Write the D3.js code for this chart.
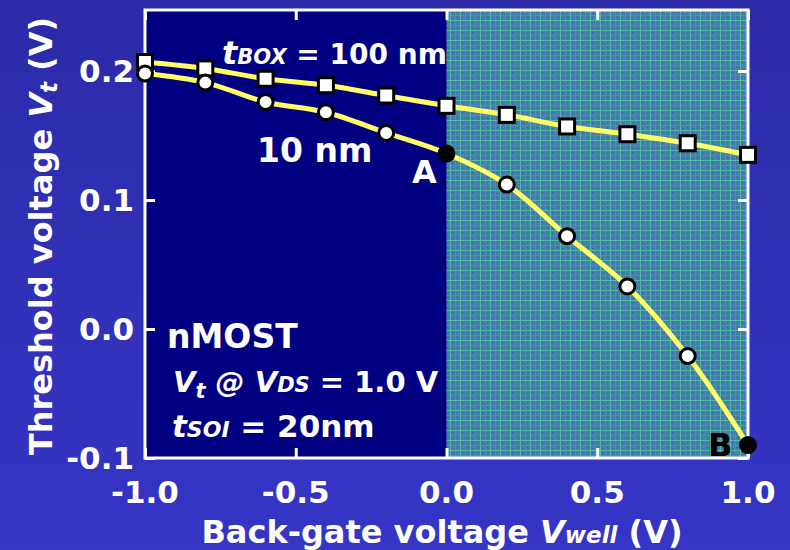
<!DOCTYPE html>
<html>
<head>
<meta charset="utf-8">
<script src="https://cdn.jsdelivr.net/npm/d3@7"></script>
<style>
  body { margin: 0; background: #3232bc; }
  svg text { font-family: "DejaVu Sans", Verdana, sans-serif; font-weight: bold; fill: #fff; }
</style>
</head>
<body>
<script>
// back-gate voltage (V)
const vwell = [-1.0, -0.8, -0.6, -0.4, -0.2, 0.0, 0.2, 0.4, 0.6, 0.8, 1.0];
// threshold voltage for tBOX = 100 nm and 10 nm
const vt100 = [0.207, 0.202, 0.194, 0.189, 0.181, 0.173, 0.166, 0.157, 0.151, 0.144, 0.135];
const vt10 = [0.198, 0.191, 0.176, 0.168, 0.152, 0.136, 0.112, 0.072, 0.033, -0.021, -0.090];
const xTicks = [-1.0, -0.5, 0.0, 0.5, 1.0];
const yTicks = [-0.1, 0.0, 0.1, 0.2];

const w = 790, h = 550;
const mLeft = 145, mRight = 748, mTop = 10, mBottom = 458;

const svg = d3.select("body").append("svg").attr("width", w).attr("height", h);
const defs = svg.append("defs");

const bg = defs.append("linearGradient").attr("id", "bg").attr("x1", 0).attr("y1", 0).attr("x2", 0).attr("y2", 1);
bg.append("stop").attr("offset", 0).attr("stop-color", "#2b2ba8");
bg.append("stop").attr("offset", 1).attr("stop-color", "#3535c6");
svg.append("rect").attr("width", w).attr("height", h).attr("fill", "url(#bg)");

// teal grid texture for the forward-bias half
const pat = defs.append("pattern").attr("id", "grid").attr("patternUnits", "userSpaceOnUse")
  .attr("width", 10).attr("height", 10);
pat.append("rect").attr("width", 10).attr("height", 10).attr("fill", "#437ca8");
pat.append("rect").attr("x", 2).attr("y", 2).attr("width", 1).attr("height", 1).attr("fill", "#3a5ec2");
pat.append("rect").attr("x", 7).attr("y", 7).attr("width", 1).attr("height", 1).attr("fill", "#3a5ec2");
pat.append("rect").attr("x", 2).attr("y", 8).attr("width", 1).attr("height", 1).attr("fill", "#3a5ec2");
pat.append("rect").attr("x", 3).attr("y", 7).attr("width", 1).attr("height", 1).attr("fill", "#5896a0");
pat.append("rect").attr("x", 8).attr("y", 3).attr("width", 1).attr("height", 1).attr("fill", "#5896a0");
pat.append("rect").attr("x", 5).attr("width", 1).attr("height", 10).attr("fill", "#4a90a8");
pat.append("rect").attr("y", 5).attr("width", 10).attr("height", 1).attr("fill", "#4a90a8");
pat.append("rect").attr("x", 0).attr("width", 1).attr("height", 10).attr("fill", "#52bca0");
pat.append("rect").attr("y", 0).attr("width", 10).attr("height", 1).attr("fill", "#52bca0");

const x = d3.scaleLinear().domain([-1, 1]).range([mLeft, mRight]);
const y = d3.scaleLinear().domain([-0.1, 0.2473]).range([mBottom, mTop]);

svg.append("rect").attr("x", x(-1)).attr("y", mTop).attr("width", x(0) - x(-1)).attr("height", mBottom - mTop).attr("fill", "#000080");
svg.append("rect").attr("x", x(0)).attr("y", mTop).attr("width", x(1) - x(0)).attr("height", mBottom - mTop).attr("fill", "url(#grid)");

// axes with inward ticks
const ax = svg.append("g").attr("class", "axes");
ax.append("g").attr("transform", `translate(0,${mBottom})`)
  .call(d3.axisTop(x).tickValues(xTicks).tickSize(10).tickFormat(""));
ax.append("g").attr("transform", `translate(0,${mTop})`)
  .call(d3.axisBottom(x).tickValues(xTicks).tickSize(10).tickFormat(""));
ax.append("g").attr("transform", `translate(${mLeft},0)`)
  .call(d3.axisRight(y).tickValues(yTicks).tickSize(10).tickFormat(""));
ax.append("g").attr("transform", `translate(${mRight},0)`)
  .call(d3.axisLeft(y).tickValues(yTicks).tickSize(10).tickFormat(""));
ax.selectAll(".domain").remove();
ax.selectAll("line").attr("stroke", "#fff").attr("stroke-width", 3);
svg.append("rect").attr("x", mLeft).attr("y", mTop).attr("width", mRight - mLeft).attr("height", mBottom - mTop)
  .attr("fill", "none").attr("stroke", "#fff").attr("stroke-width", 3);

// tick labels
svg.selectAll(".xl").data(xTicks).enter().append("text")
  .attr("x", d => x(d)).attr("y", 503).attr("text-anchor", "middle")
  .style("font-size", "31px").text(d => d3.format(".1f")(d).replace("−", "-"));
svg.selectAll(".yl").data(yTicks).enter().append("text")
  .attr("x", 134).attr("y", d => y(d) + 11).attr("text-anchor", "end")
  .style("font-size", "31px").text(d => d3.format(".1f")(d).replace("−", "-"));

// axis titles
const xt = svg.append("text").attr("x", 442).attr("y", 543).attr("text-anchor", "middle").style("font-size", "32px");
xt.append("tspan").text("Back-gate voltage ");
xt.append("tspan").style("font-style", "italic").text("V");
xt.append("tspan").style("font-style", "italic").style("font-size", "23px").text("well");
xt.append("tspan").text(" (V)");

const yt = svg.append("text").attr("transform", "translate(52,236) rotate(-90)").attr("text-anchor", "middle").style("font-size", "32px");
yt.append("tspan").text("Threshold voltage ");
yt.append("tspan").style("font-style", "italic").text("V");
yt.append("tspan").style("font-style", "italic").style("font-size", "23px").attr("dy", 5).text("t");
yt.append("tspan").attr("dy", -5).text(" (V)");

// curves
const line = d3.line().x((d, i) => x(vwell[i])).y(d => y(d)).curve(d3.curveCatmullRom.alpha(0.5));
[vt100, vt10].forEach(s => {
  svg.append("path").attr("d", line(s)).attr("fill", "none").attr("stroke", "#ffff66").attr("stroke-width", 5);
});

// markers
svg.selectAll(".sq").data(vt100).enter().append("rect")
  .attr("x", (d, i) => x(vwell[i]) - 7.5).attr("y", d => y(d) - 7.5)
  .attr("width", 15).attr("height", 15)
  .attr("fill", "#fff").attr("stroke", "#000").attr("stroke-width", 3);
svg.selectAll(".ci").data(vt10).enter().append("circle")
  .attr("cx", (d, i) => x(vwell[i])).attr("cy", d => y(d)).attr("r", 7.5)
  .attr("fill", (d, i) => (vwell[i] === 0 || vwell[i] === 1) ? "#000" : "#fff")
  .attr("stroke", "#000").attr("stroke-width", 3);

// annotations
const t1 = svg.append("text").attr("x", 222).attr("y", 64).style("font-size", "28px");
t1.append("tspan").style("font-style", "italic").style("font-size", "32px").text("t");
t1.append("tspan").style("font-style", "italic").style("font-size", "21px").text("BOX");
t1.append("tspan").text(" = 100 nm");
svg.append("text").attr("x", 257).attr("y", 162).style("font-size", "33px").text("10 nm");
svg.append("text").attr("x", 412).attr("y", 183).style("font-size", "32px").text("A");
svg.append("text").attr("x", 708).attr("y", 456).style("font-size", "32px").style("fill", "#000").text("B");

svg.append("text").attr("x", 167).attr("y", 348).style("font-size", "33px").text("nMOST");
const t2 = svg.append("text").attr("x", 173).attr("y", 392).style("font-size", "29px");
t2.append("tspan").style("font-style", "italic").text("V");
t2.append("tspan").style("font-style", "italic").style("font-size", "21px").attr("dy", 6).text("t");
t2.append("tspan").attr("dy", -6).style("font-style", "italic").text(" @ V");
t2.append("tspan").style("font-style", "italic").style("font-size", "21px").text("DS");
t2.append("tspan").text(" = 1.0 V");
const t3 = svg.append("text").attr("x", 172).attr("y", 437).style("font-size", "31px");
t3.append("tspan").style("font-style", "italic").text("t");
t3.append("tspan").style("font-style", "italic").style("font-size", "22px").text("SOI");
t3.append("tspan").text(" = 20nm");
</script>
</body>
</html>
